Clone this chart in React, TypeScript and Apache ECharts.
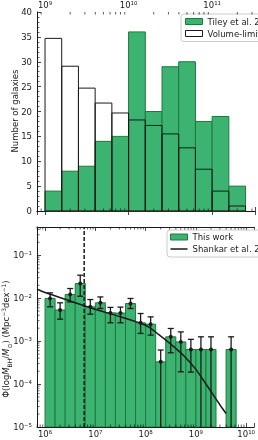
import React, { useEffect, useRef } from 'react';
import * as echarts from 'echarts';

// ---------- data ----------
// top panel: stellar-mass histogram (log10 M* bin edges)
const topBinEdges = [9.0, 9.2, 9.4, 9.6, 9.8, 10.0, 10.2, 10.4, 10.6, 10.8, 11.0, 11.2, 11.4];
const tileyCounts = [4, 8, 9, 14, 15, 36, 20, 29, 30, 18, 19, 5];
const volumeLimitedCounts = [34.7, 29.1, 24.7, 21.7, 19.7, 18.3, 17.2, 15.5, 12.7, 8.4, 4.0, 1.0];

// bottom panel: black-hole mass function (log10 M_BH bin edges)
const bhBinEdges = [6.0, 6.2, 6.4, 6.6, 6.8, 7.0, 7.2, 7.4, 7.6, 7.8, 8.0, 8.2, 8.4, 8.6, 8.8, 9.0, 9.2, 9.4, 9.6, 9.8];
const phiValues = [0.0099, 0.0053, 0.0122, 0.022, 0.0063, 0.0078, 0.00455, 0.0045, 0.0075, 0.00267, 0.00248, 0.00033, 0.00126, 0.00096, 0.00064, 0.00064, 0.00064, 0, 0.00064];
const phiLower = [0.0063, 0.00325, 0.0082, 0.0111, 0.00425, 0.00575, 0.00267, 0.00267, 0.00575, 0.00151, 0.00138, 0, 0.000535, 0.000193, 0.00019, 0, 0, 0, 0];
const phiUpper = [0.0133, 0.0078, 0.0168, 0.0343, 0.0093, 0.0107, 0.0061, 0.0062, 0.00985, 0.0044, 0.00367, 0.00062, 0.00197, 0.00164, 0.0011, 0.00126, 0.00126, 0, 0.00126];

// Shankar et al. mass function curve
const shankarLogM = [5.84, 6.0, 6.5, 7.0, 7.5, 8.0, 8.25, 8.5, 8.75, 9.0, 9.25, 9.5, 9.6];
const shankarPhi = [0.0162, 0.0136, 0.0086, 0.0055, 0.0037, 0.00234, 0.00146, 0.00085, 0.00047, 0.00022, 0.000082, 0.00003, 0.0000206];

// completeness threshold (dashed line)
const thresholdMass = 6.0e6;

// legend / label texts
const legendTop = ['Tiley et al. 2019', 'Volume-limited'];
const legendBottom = ['This work', 'Shankar et al. 2009'];
const yLabelTop = 'Number of galaxies';

// ---------- styling / layout ----------
const GREEN = '#3cb371';
const GREEN_EDGE = '#1f7a3a';
const INK = '#1a1a1a';
const FONT = 'DejaVu Sans';

const TOP_X_MIN = Math.pow(10, 8.904);
const TOP_X_MAX = Math.pow(10, 11.513);
const BOT_X_MIN = Math.pow(10, 5.84);
const BOT_X_MAX = Math.pow(10, 10.159);
const PHI_MIN = 1e-5;
const PHI_MAX = Math.pow(10, -0.342);

const SUP: Record<string, string> = { '0': '⁰', '1': '¹', '2': '²', '3': '³', '4': '⁴', '5': '⁵', '6': '⁶', '7': '⁷', '8': '⁸', '9': '⁹', '-': '⁻' };
const fmtLog = (v: number) => {
  const l = Math.log10(v);
  const e = Math.round(l);
  if (Math.abs(l - e) > 1e-6) return '';
  return '10' + String(e).split('').map((c) => SUP[c] || c).join('');
};

function minorValues(kFrom: number, kTo: number, lo: number, hi: number) {
  const out: number[] = [];
  for (let k = kFrom; k <= kTo; k++) {
    for (let m = 2; m <= 9; m++) {
      const v = m * Math.pow(10, k);
      if (v > lo && v < hi) out.push(v);
    }
  }
  return out;
}

export default function App() {
  const ref = useRef<HTMLDivElement>(null);

  useEffect(() => {
    if (!ref.current) return;
    const chart = echarts.init(ref.current, undefined, { renderer: 'svg' });

    const topTiley = tileyCounts.map((c, i) => [Math.pow(10, topBinEdges[i]), Math.pow(10, topBinEdges[i + 1]), c]);
    const topVol = volumeLimitedCounts.map((c, i) => [Math.pow(10, topBinEdges[i]), Math.pow(10, topBinEdges[i + 1]), c]);
    const bhBars: number[][] = [];
    const bhErr: number[][] = [];
    phiValues.forEach((p, i) => {
      if (p <= 0) return;
      bhBars.push([Math.pow(10, bhBinEdges[i]), Math.pow(10, bhBinEdges[i + 1]), p]);
      bhErr.push([Math.pow(10, (bhBinEdges[i] + bhBinEdges[i + 1]) / 2), p, phiLower[i], phiUpper[i]]);
    });

    const barRender = (fill: string, stroke: string, lw: number, yBase: number) => (params: any, api: any) => {
      const p0 = api.coord([api.value(0), api.value(2)]);
      const p1 = api.coord([api.value(1), yBase]);
      return {
        type: 'rect',
        shape: { x: p0[0], y: p0[1], width: p1[0] - p0[0], height: p1[1] - p0[1] },
        style: { fill, stroke, lineWidth: lw },
      };
    };

    const errRender = (params: any, api: any) => {
      const x = api.value(0);
      const y = api.value(1);
      const lo = api.value(2);
      const hi = api.value(3);
      const pc = api.coord([x, y]);
      const ph = api.coord([x, hi]);
      const pl = lo > 0 ? api.coord([x, lo]) : api.coord([x, PHI_MIN]);
      const cap = 3;
      const st = { stroke: INK, lineWidth: 1.3 };
      const children: any[] = [
        { type: 'line', shape: { x1: pc[0], y1: ph[1], x2: pc[0], y2: pl[1] }, style: st },
        { type: 'line', shape: { x1: pc[0] - cap, y1: ph[1], x2: pc[0] + cap, y2: ph[1] }, style: st },
        { type: 'circle', shape: { cx: pc[0], cy: pc[1], r: 2 }, style: { fill: INK } },
      ];
      if (lo > 0) children.push({ type: 'line', shape: { x1: pc[0] - cap, y1: pl[1], x2: pc[0] + cap, y2: pl[1] }, style: st });
      return { type: 'group', children };
    };

    const xMinorRender = (yLo: number, yHi: number) => (params: any, api: any) => {
      const v = api.value(0);
      const pb = api.coord([v, yLo]);
      const pt = api.coord([v, yHi]);
      const st = { stroke: INK, lineWidth: 0.7 };
      return {
        type: 'group',
        children: [
          { type: 'line', shape: { x1: pb[0], y1: pb[1], x2: pb[0], y2: pb[1] - 2.5 }, style: st },
          { type: 'line', shape: { x1: pt[0], y1: pt[1], x2: pt[0], y2: pt[1] + 2.5 }, style: st },
        ],
      };
    };
    const yMinorRender = (params: any, api: any) => {
      const v = api.value(1);
      const p = api.coord([BOT_X_MIN, v]);
      return { type: 'line', shape: { x1: p[0], y1: p[1], x2: p[0] + 2.5, y2: p[1] }, style: { stroke: INK, lineWidth: 0.7 } };
    };

    const axisLine = { show: true, lineStyle: { color: INK, width: 1 } };
    const tick = { show: true, inside: true, length: 4, lineStyle: { color: INK, width: 0.8 } };
    const label = { fontSize: 8.5, fontFamily: FONT, color: INK };

    const option: any = {
      animation: false,
      textStyle: { fontFamily: FONT },
      grid: [
        { left: 37, top: 11, width: 225, height: 200 },
        { left: 37, top: 227, width: 225, height: 200 },
      ],
      xAxis: [
        { type: 'log', gridIndex: 0, position: 'top', min: TOP_X_MIN, max: TOP_X_MAX, axisLine, axisTick: tick, splitLine: { show: false }, axisLabel: { ...label, formatter: fmtLog, margin: 3 } },
        { type: 'log', gridIndex: 0, position: 'bottom', min: TOP_X_MIN, max: TOP_X_MAX, axisLine, axisTick: tick, splitLine: { show: false }, axisLabel: { show: false } },
        { type: 'log', gridIndex: 1, position: 'bottom', min: BOT_X_MIN, max: BOT_X_MAX, axisLine, axisTick: tick, splitLine: { show: false }, axisLabel: { ...label, formatter: fmtLog, margin: 2 } },
        { type: 'log', gridIndex: 1, position: 'top', min: BOT_X_MIN, max: BOT_X_MAX, axisLine, axisTick: tick, splitLine: { show: false }, axisLabel: { show: false } },
      ],
      yAxis: [
        {
          type: 'value', gridIndex: 0, min: 0, max: 40, interval: 5, axisLine, axisTick: tick,
          minorTick: { show: true, splitNumber: 5, length: 2.5, lineStyle: { color: INK, width: 0.7 } },
          splitLine: { show: false }, axisLabel: { ...label, margin: 5 },
        },
        { type: 'log', gridIndex: 1, min: PHI_MIN, max: PHI_MAX, axisLine, axisTick: tick, splitLine: { show: false }, axisLabel: { ...label, formatter: fmtLog, margin: 5 } },
      ],
      legend: [
        {
          orient: 'vertical', left: 181, top: 14, padding: [2.5, 4, 3, 4], itemWidth: 17, itemHeight: 6, itemGap: 2,
          textStyle: { fontSize: 8.5, lineHeight: 10, fontFamily: FONT, color: INK },
          backgroundColor: 'rgba(255,255,255,0.8)', borderColor: '#cccccc', borderWidth: 1, borderRadius: 3, selectedMode: false,
          data: [
            { name: legendTop[0], icon: 'rect', itemStyle: { color: GREEN, borderColor: GREEN_EDGE, borderWidth: 1 } },
            { name: legendTop[1], icon: 'rect', itemStyle: { color: '#ffffff', borderColor: INK, borderWidth: 1 } },
          ],
        },
        {
          orient: 'vertical', left: 167, top: 230, padding: [2, 3, 3, 3], itemWidth: 17, itemHeight: 6, itemGap: 2,
          textStyle: { fontSize: 8.5, lineHeight: 10, fontFamily: FONT, color: INK },
          backgroundColor: 'rgba(255,255,255,0.8)', borderColor: '#cccccc', borderWidth: 1, borderRadius: 3, selectedMode: false,
          data: [
            { name: legendBottom[0], icon: 'rect', itemStyle: { color: GREEN, borderColor: GREEN_EDGE, borderWidth: 1 } },
            { name: legendBottom[1], icon: 'path://M0,0L34,0L34,3L0,3Z', itemStyle: { color: INK, borderWidth: 0 } },
          ],
        },
      ],
      graphic: [
        {
          type: 'text', x: 15, y: 111, rotation: Math.PI / 2, silent: true,
          style: { text: yLabelTop, fontSize: 8.5, fontFamily: FONT, fill: INK, align: 'center', verticalAlign: 'middle' },
        },
        {
          type: 'text', x: 6, y: 339, rotation: Math.PI / 2, silent: true,
          style: {
            text: '{n|Φ(log}{i|M}{s|BH}{n|/}{i|M}{s|⊙}{n|) (Mpc}{p|−3}{n|dex}{p|−1}{n|)}',
            align: 'center', verticalAlign: 'middle', fill: INK, fontFamily: FONT, fontSize: 8.5,
            rich: {
              n: { fontSize: 8.5, lineHeight: 12, fontFamily: FONT, fill: INK },
              i: { fontSize: 8.5, lineHeight: 12, fontFamily: FONT, fontStyle: 'italic', fill: INK },
              s: { fontSize: 6, lineHeight: 7, fontFamily: FONT, fill: INK, verticalAlign: 'bottom' },
              p: { fontSize: 6, lineHeight: 7, fontFamily: FONT, fill: INK, verticalAlign: 'top' },
            },
          },
        },
      ],
      series: [
        {
          type: 'custom', name: legendTop[1], xAxisIndex: 0, yAxisIndex: 0, z: 2, silent: true,
          encode: { x: [0, 1], y: 2 }, data: topVol, itemStyle: { color: '#ffffff' },
          renderItem: barRender('#ffffff', 'none', 0, 0),
        },
        {
          type: 'custom', name: legendTop[0], xAxisIndex: 0, yAxisIndex: 0, z: 3, silent: true,
          encode: { x: [0, 1], y: 2 }, data: topTiley, itemStyle: { color: GREEN },
          renderItem: barRender(GREEN, GREEN_EDGE, 1, 0),
        },
        {
          type: 'custom', name: legendTop[1], xAxisIndex: 0, yAxisIndex: 0, z: 4, silent: true,
          encode: { x: [0, 1], y: 2 }, data: topVol, itemStyle: { color: '#ffffff' },
          renderItem: barRender('none', INK, 1, 0),
        },
        {
          type: 'custom', name: legendBottom[0], xAxisIndex: 2, yAxisIndex: 1, z: 2, silent: true, clip: true,
          encode: { x: [0, 1], y: 2 }, data: bhBars, itemStyle: { color: GREEN },
          renderItem: barRender(GREEN, GREEN_EDGE, 1, PHI_MIN),
        },
        {
          type: 'line', name: legendBottom[1], xAxisIndex: 2, yAxisIndex: 1, z: 5, silent: true,
          symbol: 'none', showSymbol: false, smooth: 0.3, clip: true,
          lineStyle: { color: INK, width: 1.5 }, itemStyle: { color: INK },
          data: shankarLogM.map((m, i) => [Math.pow(10, m), shankarPhi[i]]),
        },
        {
          type: 'custom', name: 'errors', xAxisIndex: 2, yAxisIndex: 1, z: 6, silent: true, clip: true,
          encode: { x: 0, y: [1, 3] }, data: bhErr, renderItem: errRender,
        },
        {
          type: 'line', name: 'threshold', xAxisIndex: 2, yAxisIndex: 1, z: 6, silent: true, symbol: 'none',
          lineStyle: { color: INK, width: 1.5, type: [4, 2] },
          data: [[thresholdMass, PHI_MIN], [thresholdMass, PHI_MAX]],
        },
        {
          type: 'custom', name: 'minorTop', xAxisIndex: 0, yAxisIndex: 0, z: 7, silent: true,
          encode: { x: 0, y: 1 }, data: minorValues(8, 11, TOP_X_MIN, TOP_X_MAX).map((v) => [v, 0]),
          renderItem: xMinorRender(0, 40),
        },
        {
          type: 'custom', name: 'minorBottom', xAxisIndex: 2, yAxisIndex: 1, z: 7, silent: true,
          encode: { x: 0, y: 1 }, data: minorValues(5, 10, BOT_X_MIN, BOT_X_MAX).map((v) => [v, PHI_MIN]),
          renderItem: xMinorRender(PHI_MIN, PHI_MAX),
        },
        {
          type: 'custom', name: 'minorY', xAxisIndex: 2, yAxisIndex: 1, z: 7, silent: true,
          encode: { x: 0, y: 1 }, data: minorValues(-5, -1, PHI_MIN, PHI_MAX).map((v) => [BOT_X_MIN, v]),
          renderItem: yMinorRender,
        },
      ],
    };

    chart.setOption(option);
    return () => chart.dispose();
  }, []);

  return <div ref={ref} style={{ position: 'fixed', left: 0, top: 0, width: 258, height: 440 }} />;
}
